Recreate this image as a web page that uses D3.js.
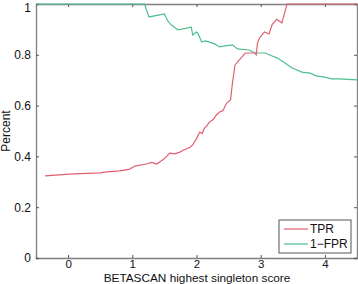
<!DOCTYPE html>
<html>
<head>
  <meta charset='utf-8'>
  <title>TPR / 1-FPR</title>
  <script src="https://cdnjs.cloudflare.com/ajax/libs/d3/7.8.5/d3.min.js"></script>
  <style>
    html, body {
      margin: 0;
      padding: 0;
      background: #fff;
    }
    svg {
      display: block;
      font-family: 'Liberation Sans', Arial, sans-serif;
    }
  </style>
</head>
<body>
  <svg id="chart"></svg>
  <script>
    // values (score, rate)
    const tprScore = [-0.36, 0.08, 0.5, 0.6, 0.81, 0.96, 1.04, 1.22, 1.3, 1.38, 1.47, 1.53, 1.58, 1.66, 1.74, 1.8, 1.85, 1.9, 1.94, 2.0, 2.05, 2.09, 2.12, 2.16, 2.2, 2.26, 2.31, 2.36, 2.41, 2.47, 2.53, 2.56, 2.6, 2.76, 2.91, 2.93, 2.95, 2.98, 3.06, 3.13, 3.18, 3.25, 3.33, 3.41, 4.5];
    const tprValue = [0.323, 0.331, 0.335, 0.339, 0.343, 0.35, 0.362, 0.37, 0.376, 0.37, 0.386, 0.398, 0.413, 0.41, 0.417, 0.425, 0.43, 0.436, 0.445, 0.47, 0.496, 0.49, 0.51, 0.52, 0.535, 0.545, 0.563, 0.575, 0.58, 0.61, 0.622, 0.689, 0.76, 0.807, 0.807, 0.8, 0.846, 0.866, 0.89, 0.882, 0.92, 0.94, 0.925, 1.0, 1.0];

    const fprScore = [-0.5, 1.19, 1.26, 1.5, 1.53, 1.55, 1.58, 1.61, 1.71, 1.92, 1.94, 2.0, 2.02, 2.08, 2.14, 2.2, 2.28, 2.36, 2.45, 2.56, 2.64, 2.82, 2.91, 3.07, 3.16, 3.26, 3.38, 3.49, 3.64, 3.77, 3.86, 3.98, 4.11, 4.22, 4.5];
    const fprValue = [1.0, 1.0, 0.949, 0.961, 0.945, 0.935, 0.925, 0.917, 0.898, 0.909, 0.878, 0.89, 0.886, 0.85, 0.855, 0.85, 0.843, 0.831, 0.835, 0.839, 0.823, 0.819, 0.807, 0.807, 0.797, 0.787, 0.768, 0.748, 0.732, 0.728, 0.717, 0.713, 0.705, 0.705, 0.701];

    const xTicks = [0, 1, 2, 3, 4];
    const yTicks = [0, 0.2, 0.4, 0.6, 0.8, 1];
    const seriesNames = ["TPR", "1\u2212FPR"];
    const colors = ["#e0606e", "#4dbf8e"];

    const width = 358;
    const height = 284;
    const margin = { top: 4, right: 1, bottom: 26, left: 36 };

    const svg = d3.select('#chart')
      .attr('width', width)
      .attr('height', height);

    const x = d3.scaleLinear().domain([-0.5, 4.5]).range([margin.left, width - margin.right]);
    const y = d3.scaleLinear().domain([0, 1]).range([height - margin.bottom, margin.top]);

    const axisColor = "#808080";
    const tickLen = 3;
    const fontSize = '12px';

    //box + inward ticks
    const gx = svg.append('g')
      .attr('transform', `translate(0,${y(0)})`)
      .call(d3.axisBottom(x).tickValues(xTicks).tickSize(-tickLen).tickPadding(2).tickFormat(d3.format('d')));
    const gxTop = svg.append('g')
      .attr('transform', `translate(0,${y(1)})`)
      .call(d3.axisTop(x).tickValues(xTicks).tickSize(-tickLen).tickFormat(''));
    const gy = svg.append('g')
      .attr('transform', `translate(${x(-0.5)},0)`)
      .call(d3.axisLeft(y).tickValues(yTicks).tickSize(-tickLen).tickPadding(5).tickFormat(d => d === 0 || d === 1 ? d3.format('d')(d) : d3.format('.1f')(d)));
    const gyRight = svg.append('g')
      .attr('transform', `translate(${x(4.5)},0)`)
      .call(d3.axisRight(y).tickValues(yTicks).tickSize(-tickLen).tickFormat(''));

    for (const g of [gx, gxTop, gy, gyRight]) {
      g.select('.domain').attr('stroke', axisColor).attr('stroke-width', 1.3);
      g.selectAll('.tick line').attr('stroke', '#555');
      g.selectAll('.tick text').attr('fill', '#111').style('font-size', fontSize);
    }
    gx.selectAll('.tick text').style('font-size', '11.5px');
    // the top "1" sits right at the page edge; nudge it so it stays inside
    gy.selectAll('.tick text').filter(d => d === 1).attr('dy', '0.6em');

    const line = d3.line()
      .x(d => x(d[0]))
      .y(d => y(d[1]));

    const tpr = tprScore.map((s, i) => [s, tprValue[i]]);
    const fpr = fprScore.map((s, i) => [s, fprValue[i]]);

    svg.append('path')
      .datum(fpr)
      .attr('fill', 'none')
      .attr('stroke', colors[1])
      .attr('stroke-width', 1.2)
      .attr('d', line);

    svg.append('path')
      .datum(tpr)
      .attr('fill', 'none')
      .attr('stroke', colors[0])
      .attr('stroke-width', 1.2)
      .attr('d', line);

    // axis labels
    svg.append('text')
      .attr('x', 197)
      .attr('y', 281.5)
      .attr('text-anchor', 'middle')
      .style('font-size', '11.8px')
      .attr('fill', '#111')
      .text('BETASCAN highest singleton score');

    svg.append('text')
      .attr('transform', `translate(10,${(y(0) + y(1)) / 2}) rotate(-90)`)
      .attr('text-anchor', 'middle')
      .style('font-size', fontSize)
      .attr('fill', '#111')
      .text('Percent');

    // legend
    const legend = svg.append('g').attr('transform', 'translate(279,220)');
    legend.append('rect')
      .attr('width', 72)
      .attr('height', 33)
      .attr('fill', '#fff')
      .attr('stroke', '#555')
      .attr('stroke-width', 1);
    seriesNames.forEach((name, i) => {
      const ly = 9 + i * 15;
      legend.append('line')
        .attr('x1', 5).attr('x2', 29)
        .attr('y1', ly).attr('y2', ly)
        .attr('stroke', colors[i])
        .attr('stroke-width', 1.2);
      legend.append('text')
        .attr('x', 31)
        .attr('y', ly + 4)
        .style('font-size', fontSize)
        .attr('fill', '#111')
        .text(name);
    });
  </script>
</body>
</html>
